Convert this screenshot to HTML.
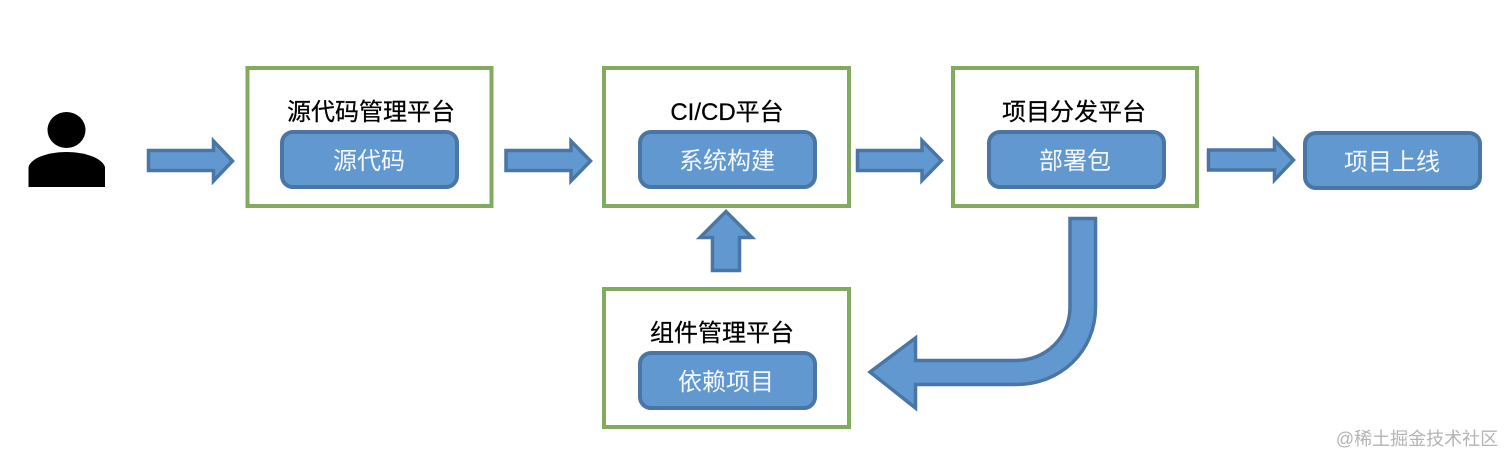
<!DOCTYPE html>
<html>
<head>
<meta charset="utf-8">
<style>
html,body{margin:0;padding:0;background:#fff;width:1512px;height:465px;overflow:hidden}
svg{display:block}
text{font-family:"Liberation Sans","Noto Sans CJK SC",sans-serif;text-anchor:middle}
.t{font-size:24px;fill:#000;stroke:#000;stroke-width:.25}
.w{font-size:24px;fill:#f4f8fc}
.g{fill:#fff;stroke:#82ab5f;stroke-width:4}
.b{fill:#6298d0;stroke:#4a76a5;stroke-width:4}
.a{fill:#6298d0;stroke:#4a76a5;stroke-width:3.5;stroke-linejoin:miter}
</style>
</head>
<body>
<svg width="1512" height="465" viewBox="0 0 1512 465" xmlns="http://www.w3.org/2000/svg">
<rect width="1512" height="465" fill="#fff"/>

<!-- person -->
<ellipse cx="66.500" cy="130" rx="19" ry="18" fill="#000"/>
<path d="M28.500 187V167C31 158 48 152 66.500 152C85 152 102 158 105 167V187Z" fill="#000"/>

<!-- green frames -->
<rect class="g" x="247.500" y="68" width="244" height="138"/>
<rect class="g" x="604" y="68" width="245" height="138"/>
<rect class="g" x="953" y="68" width="244" height="138"/>
<rect class="g" x="604" y="289" width="245" height="138"/>

<!-- inner boxes -->
<rect class="b" x="282" y="132" width="175" height="55" rx="11"/>
<rect class="b" x="640" y="132" width="175" height="55" rx="11"/>
<rect class="b" x="989" y="132" width="175" height="55" rx="11"/>
<rect class="b" x="640" y="353" width="175" height="55" rx="11"/>
<rect class="b" x="1305" y="133" width="175" height="55" rx="11"/>

<!-- right arrows -->
<path class="a" d="M148.500 150.500H213.500V141L232.500 161L213.500 181V170.500H148.500Z"/>
<path class="a" d="M506 150.500H571V141L590.500 161L571 181V170.500H506Z"/>
<path class="a" d="M857.500 150.500H922V140.500L941.500 160.500L922 180.500V170.500H857.500Z"/>
<path class="a" d="M1208.500 150H1274.500V140L1293.500 160L1274.500 180V170H1208.500Z"/>

<!-- up arrow -->
<path class="a" d="M726 211.500L752 237.500H739.500V270.500H712.500V237.500H700Z"/>

<!-- curved arrow -->
<path class="a" d="M1070 218.500H1095.500V307C1095.500 352 1060 384.500 1016 384.500H915.500V408L870 372L915.500 338V360.500H1016C1045 360.500 1070 338 1070 307Z"/>

<!-- titles -->
<text class="t" x="371" y="120">源代码管理平台</text>
<text class="t" x="727" y="120">CI/CD平台</text>
<text class="t" x="1074" y="120">项目分发平台</text>
<text class="t" x="722" y="341">组件管理平台</text>

<!-- inner labels -->
<text class="w" x="369" y="169">源代码</text>
<text class="w" x="727" y="169">系统构建</text>
<text class="w" x="1075" y="169">部署包</text>
<text class="w" x="726" y="390">依赖项目</text>
<text class="w" x="1392" y="170">项目上线</text>

<!-- watermark -->
<text x="1417" y="445" style="font-size:18px;fill:#b4b4b4">@稀土掘金技术社区</text>
</svg>
</body>
</html>
